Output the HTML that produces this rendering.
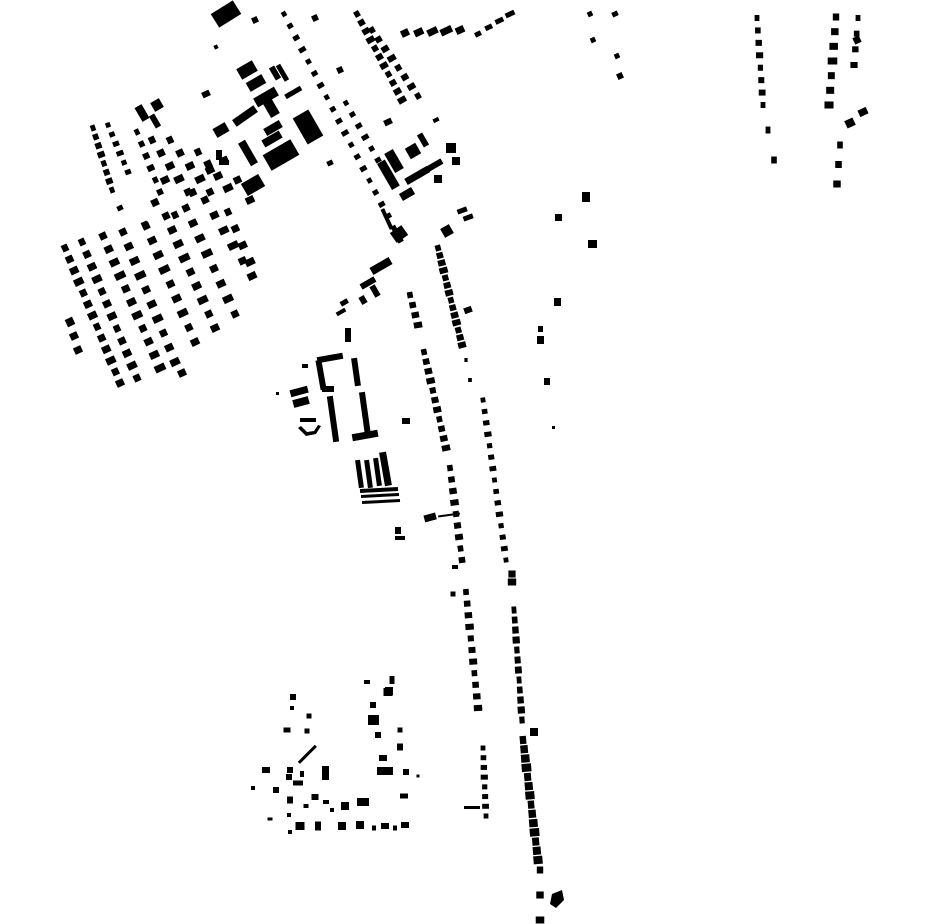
<!DOCTYPE html>
<html><head><meta charset="utf-8"><style>
html,body{margin:0;padding:0;background:#fff;width:930px;height:924px;overflow:hidden}
svg{display:block}
</style></head><body>
<svg id="s" width="930" height="924" viewBox="0 0 930 924" xmlns="http://www.w3.org/2000/svg">
<g fill="#000">
<rect x="213" y="6" width="26" height="16" transform="rotate(-32 226 14)"/>
<rect x="238" y="64" width="18" height="12" transform="rotate(-30 247 70)"/>
<rect x="247" y="78" width="18" height="10" transform="rotate(-30 256 83)"/>
<rect x="254" y="92" width="24" height="10" transform="rotate(-30 266 97)"/>
<rect x="232" y="112" width="26" height="8" transform="rotate(-35 245 116)"/>
<rect x="265" y="95" width="10" height="22" transform="rotate(-30 270 106)"/>
<rect x="272" y="66" width="6" height="14" transform="rotate(-30 275 73)"/>
<rect x="280" y="64" width="5" height="18" transform="rotate(-30 282 73)"/>
<rect x="284" y="90" width="18" height="5" transform="rotate(-30 293 92)"/>
<rect x="299" y="112" width="18" height="30" transform="rotate(-30 308 127)"/>
<rect x="265" y="146" width="32" height="18" transform="rotate(-30 281 155)"/>
<rect x="243" y="178" width="20" height="14" transform="rotate(-30 253 185)"/>
<rect x="244" y="140" width="8" height="26" transform="rotate(-30 248 153)"/>
<rect x="264" y="124" width="18" height="8" transform="rotate(-30 273 128)"/>
<rect x="262" y="135" width="20" height="8" transform="rotate(-30 272 139)"/>
<rect x="214" y="125" width="14" height="10" transform="rotate(-30 221 130)"/>
<rect x="138" y="105" width="8" height="16" transform="rotate(-30 142 113)"/>
<rect x="152" y="100" width="10" height="10" transform="rotate(-30 157 105)"/>
<rect x="152" y="114" width="6" height="14" transform="rotate(-30 155 121)"/>
<rect x="216" y="150" width="6" height="10"/>
<rect x="219" y="160" width="10" height="5"/>
<rect x="384" y="160" width="9" height="30" transform="rotate(-30 388 175)"/>
<rect x="389" y="150" width="10" height="22" transform="rotate(-30 394 161)"/>
<rect x="407" y="145" width="12" height="12" transform="rotate(-30 413 151)"/>
<rect x="420" y="133" width="6" height="14" transform="rotate(-30 423 140)"/>
<rect x="404" y="172" width="26" height="7" transform="rotate(-30 417 175)"/>
<rect x="427" y="162" width="16" height="6" transform="rotate(-30 435 165)"/>
<rect x="400" y="190" width="14" height="8" transform="rotate(-30 407 194)"/>
<rect x="434" y="175" width="8" height="8"/>
<rect x="446" y="143" width="10" height="10"/>
<rect x="452" y="157" width="8" height="8"/>
<rect x="392" y="228" width="14" height="12" transform="rotate(-35 399 234)"/>
<rect x="385" y="208" width="4" height="22" transform="rotate(-25 387 219)"/>
<rect x="442" y="226" width="10" height="10" transform="rotate(-30 447 231)"/>
<rect x="457" y="208" width="10" height="5" transform="rotate(-20 462 210)"/>
<rect x="463" y="215" width="10" height="5" transform="rotate(-20 468 217)"/>
<rect x="370" y="262" width="22" height="8" transform="rotate(-30 381 266)"/>
<rect x="360" y="280" width="16" height="6" transform="rotate(-30 368 283)"/>
<rect x="372" y="285" width="6" height="12" transform="rotate(-30 375 291)"/>
<rect x="360" y="296" width="6" height="8" transform="rotate(-30 363 300)"/>
<rect x="340" y="300" width="8" height="5" transform="rotate(-30 344 302)"/>
<rect x="336" y="310" width="10" height="4" transform="rotate(-30 341 312)"/>
<rect x="345" y="328" width="6" height="14"/>
<rect x="317" y="355" width="26" height="6" transform="rotate(-10 330 358)"/>
<rect x="318" y="360" width="6" height="30" transform="rotate(-10 321 375)"/>
<rect x="322" y="386" width="12" height="6"/>
<rect x="330" y="396" width="6" height="46" transform="rotate(-8 333 419)"/>
<rect x="353" y="358" width="6" height="28" transform="rotate(-8 356 372)"/>
<rect x="362" y="392" width="6" height="44" transform="rotate(-8 365 414)"/>
<rect x="352" y="432" width="26" height="7" transform="rotate(-10 365 435)"/>
<rect x="290" y="388" width="18" height="7" transform="rotate(-15 299 391)"/>
<rect x="293" y="398" width="16" height="8" transform="rotate(-15 301 402)"/>
<rect x="300" y="418" width="16" height="4"/>
<path d="M298 428 L306 436 L316 434 L321 426 L318 425 L314 431 L307 432 L301 426Z"/>
<rect x="402" y="418" width="8" height="6"/>
<rect x="357" y="460" width="5" height="28" transform="rotate(-8 359 474)"/>
<rect x="366" y="460" width="5" height="28" transform="rotate(-8 368 474)"/>
<rect x="375" y="458" width="5" height="28" transform="rotate(-8 377 472)"/>
<rect x="382" y="452" width="7" height="34" transform="rotate(-10 385 469)"/>
<rect x="360" y="488" width="38" height="4" transform="rotate(-3 379 490)"/>
<rect x="361" y="494" width="38" height="3" transform="rotate(-3 379 495)"/>
<rect x="362" y="500" width="38" height="3" transform="rotate(-3 381 501)"/>
<rect x="424" y="514" width="12" height="7" transform="rotate(-15 430 517)"/>
<rect x="438" y="514" width="22" height="2" transform="rotate(-8 449 515)"/>
<rect x="395" y="527" width="6" height="7"/>
<rect x="395" y="536" width="10" height="4"/>
<rect x="464" y="806" width="16" height="3"/>
<path d="M552 894 L562 890 L564 900 L556 908 L550 904Z"/>
<rect x="582" y="192" width="8" height="10"/>
<rect x="588" y="240" width="9" height="8"/>
<rect x="555" y="214" width="7" height="7"/>
<rect x="554" y="298" width="7" height="8"/>
<rect x="538" y="326" width="5" height="6"/>
<rect x="537" y="336" width="7" height="8"/>
<rect x="544" y="378" width="6" height="7"/>
<rect x="552" y="426" width="3" height="3"/>
<rect x="276" y="392" width="3" height="3"/>
<rect x="302" y="364" width="6" height="4"/>
<rect x="306" y="742" width="3" height="24" transform="rotate(45 307 754)"/>
<rect x="322" y="766" width="7" height="14"/>
<rect x="377" y="767" width="16" height="8"/>
<rect x="357" y="798" width="12" height="8"/>
<rect x="368" y="715" width="11" height="10"/>
<rect x="385" y="687" width="8" height="8"/>
</g>
<g id="d" fill="#000"></g>
</svg>
<script>
var g=document.getElementById('d');
function R(x,y,w,h,a){var r=document.createElementNS('http://www.w3.org/2000/svg','rect');r.setAttribute('x',x-w/2);r.setAttribute('y',y-h/2);r.setAttribute('width',w);r.setAttribute('height',h);if(a)r.setAttribute('transform','rotate('+a+' '+x+' '+y+')');g.appendChild(r);}
function L(x1,y1,x2,y2,n,w,h,a){for(var i=0;i<n;i++){var t=n>1?i/(n-1):0;var jw=w*(0.8+0.4*((i*37)%7)/6);R(x1+(x2-x1)*t,y1+(y2-y1)*t,jw,h,a||0);}}
var P=[[255,20,6,6],[315,18,6,6],[216,47,4,4],[206,94,8,6],[340,70,6,6],[388,122,8,6],[330,163,6,5],[436,120,6,4],[590,14,5,5],[615,14,6,5],[593,40,5,5],[617,56,5,5],[620,76,6,6],[857,40,7,7],[863,112,9,7],[850,123,9,8],[120,208,6,5],[182,373,8,7],[70,322,8,8],[74,336,8,7],[78,350,8,7]];
P.forEach(function(p){R(p[0],p[1],p[2],p[3],-25);});
L(284,14,400,240,20,6,5,-30);
L(357,14,402,100,11,7,6,-30);
L(372,30,418,96,8,7,6,-30);
L(405,33,460,30,5,10,7,-25);
L(478,34,510,14,4,8,5,-25);
L(757,18,763,105,8,6,6,0);
L(768,130,774,160,2,6,7,0);
L(836,17,829,105,7,8,7,0);
L(858,18,854,65,4,6,6,0);
L(840,145,837,184,3,7,7,0);
L(346,103,378,160,6,6,5,-30);
L(93,128,112,190,8,6,6,-20);
L(108,125,128,172,6,6,5,-20);
L(137,132,160,192,6,6,6,-25);
L(152,140,188,192,5,8,7,-25);
L(170,140,210,192,5,8,7,-25);
L(198,152,228,188,4,8,7,-25);
L(225,160,250,200,3,8,7,-25);
L(145,225,165,180,3,8,7,-25);
L(175,215,210,170,3,8,7,-25);
L(65,248,120,383,13,8,7,-25);
L(82,242,137,378,12,8,7,-25);
L(103,236,160,368,11,9,7,-25);
L(123,232,175,362,10,9,7,-25);
L(146,226,195,342,9,9,7,-25);
L(166,216,215,328,9,9,7,-25);
L(186,208,235,314,8,9,7,-25);
L(205,200,252,276,6,9,7,-25);
L(228,212,250,262,4,8,7,-25);
L(438,248,462,345,14,7,6,-15);
L(466,360,470,380,2,4,4,0);
L(483,400,506,560,15,6,5,-8);
L(512,574,512,582,2,9,7,0);
L(514,610,522,720,12,6,7,-4);
L(523,740,538,860,14,8,8,-5);
L(540,870,540,920,3,8,7,0);
L(410,295,418,325,4,7,6,-10);
L(424,352,446,448,11,7,6,-12);
L(450,468,462,560,9,7,6,-8);
L(466,592,478,708,11,7,6,-4);
L(483,748,486,816,8,6,5,0);
R(534,732,8,8,0);R(468,310,8,6,-20);R(455,567,6,4,0);R(453,594,5,5,0);
[[367,682,6,4],[392,680,5,8],[388,692,9,8],[373,705,6,6],[378,735,6,6],[400,730,5,5],[400,747,6,7],[383,758,8,6],[406,772,6,6],[418,776,3,3],[404,796,8,5],[293,697,6,6],[292,708,4,4],[309,716,5,5],[287,730,7,5],[307,731,5,5],[266,770,8,6],[290,770,6,6],[289,777,6,6],[302,774,4,6],[298,783,10,5],[253,788,4,4],[276,790,6,6],[290,800,6,7],[315,797,7,6],[306,806,5,4],[326,802,6,4],[332,810,4,4],[345,806,8,8],[270,819,5,3],[289,815,4,4],[300,826,9,8],[318,826,6,9],[342,826,8,8],[360,825,8,8],[374,828,4,5],[385,826,8,6],[395,828,4,5],[405,825,8,6],[290,832,4,4]].forEach(function(p){R(p[0],p[1],p[2],p[3],0);});
</script>
</body></html>
